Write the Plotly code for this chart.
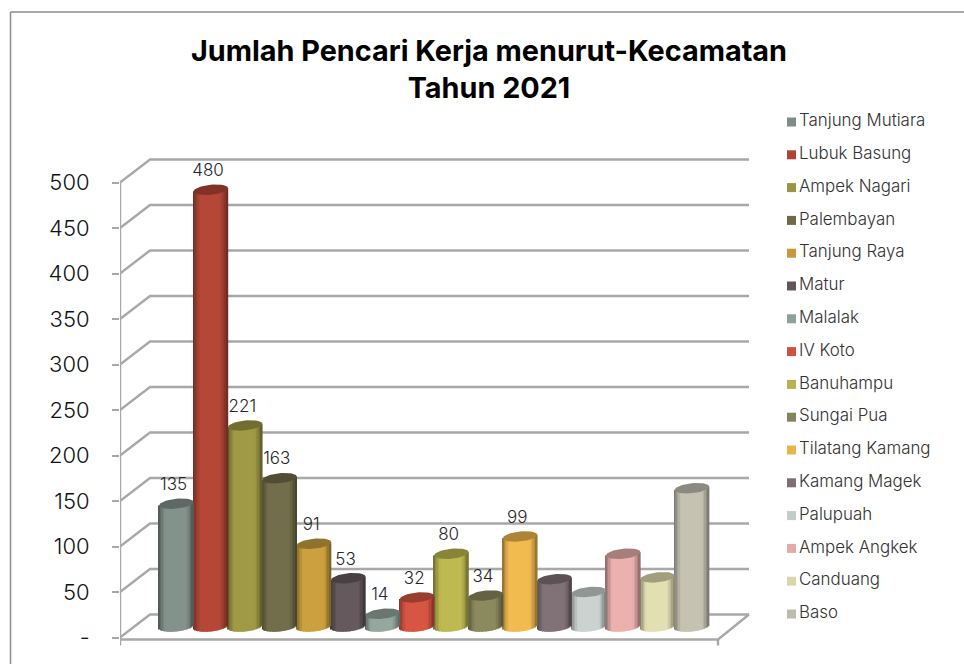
import math
import plotly.graph_objects as go

TITLE = "Jumlah Pencari Kerja menurut-Kecamatan<br>Tahun 2021"
categories = ["Tanjung Mutiara", "Lubuk Basung", "Ampek Nagari", "Palembayan",
              "Tanjung Raya", "Matur", "Malalak", "IV Koto", "Banuhampu", "Sungai Pua",
              "Tilatang Kamang", "Kamang Magek", "Palupuah", "Ampek Angkek", "Canduang", "Baso"]
values = [135, 480, 221, 163, 91, 53, 14, 32, 80, 34, 99, 52, 38, 80, 54, 152]
labelled = [True] * 11 + [False] * 5
colors = ["#7F8C87", "#AD4434", "#9A9444", "#6E6A48", "#C49A3C", "#615659", "#8FA198", "#CF5240",
          "#B8B24F", "#86845A", "#E9B44C", "#7C6E73", "#C2CBC8", "#E3AAA8", "#D9D6AC", "#BDBBAB"]
tick_vals = [0, 50, 100, 150, 200, 250, 300, 350, 400, 450, 500]
tick_text = ["-", "50", "100", "150", "200", "250", "300", "350", "400", "450", "500"]

FONT = "Inter"
W, H = 964, 664
PX_PER_UNIT = 0.91
L, R, T, B = 120, 760, 150, 652
FRONT_ZERO, BAR_ZERO = 637.5, 626.5
X0, BAR_W = 176.4, 34.37
DEPTH_X, DEPTH_Y = 30, 23
GRID = "#A8A8A8"
STRIPS = 24
ELL_B, ELL_TILT = 5.0, 1.7


def X(px):
    return (px - X0) / BAR_W


def shade(hex_color, f):
    rgb = [int(hex_color[i:i + 2], 16) for i in (1, 3, 5)]
    return "rgb(%d,%d,%d)" % tuple(min(255, round(c * f)) for c in rgb)


def yrange(zero):
    return [(zero - B) / PX_PER_UNIT, (zero - T) / PX_PER_UNIT]


fig = go.Figure()


def line(xs, ys, width=2.4, color=GRID):
    fig.add_trace(go.Scatter(x=xs, y=ys, mode="lines", line=dict(color=color, width=width),
                             xaxis="x", yaxis="y", hoverinfo="skip", showlegend=False,
                             cliponaxis=False))


# Back wall, side wall and floor, on the front value axis
dy = DEPTH_Y / PX_PER_UNIT
for t in tick_vals:
    line([X(L), X(L + DEPTH_X), X(749)], [t, t + dy, t + dy])
floor = -2 / PX_PER_UNIT
line([X(L), X(718), X(749)], [floor, floor, dy])
line([X(L), X(L)], [-8 / PX_PER_UNIT, 500])
line([X(718), X(718)], [-8 / PX_PER_UNIT, floor])

# Cylinder bodies: vertical strips shaded dark-light-dark
for k in range(STRIPS):
    off = (k + 0.5) / STRIPS - 0.5           # -0.5 .. 0.5 of bar width
    c = off * 2                              # -1 .. 1
    root = math.sqrt(max(0, 1 - c * c))
    tilt_units = ELL_TILT * c / PX_PER_UNIT
    low = tilt_units - ELL_B * root / PX_PER_UNIT
    f = 0.56 + 0.48 * min(1, (1 - abs(c)) / 0.4) ** 0.7
    fig.add_trace(go.Bar(
        x=[i + off for i in range(len(values))],
        y=[v - low + tilt_units for v in values],
        base=low,
        width=1.35 / STRIPS,
        marker=dict(color=[shade(col, f) for col in colors], line=dict(width=0)),
        xaxis="x", yaxis="y2", hoverinfo="skip", showlegend=False))

# Cylinder tops
for i, (v, col) in enumerate(zip(values, colors)):
    ts = [2 * math.pi * n / 48 for n in range(49)]
    fig.add_trace(go.Scatter(
        x=[i + 0.5 * math.cos(t) for t in ts],
        y=[v + (ELL_TILT * math.cos(t) + ELL_B * math.sin(t)) / PX_PER_UNIT for t in ts],
        mode="lines", fill="toself", fillcolor=shade(col, 0.74), line=dict(width=0),
        xaxis="x", yaxis="y2", hoverinfo="skip", showlegend=False, cliponaxis=False))

# Data labels
shown = [i for i, f in enumerate(labelled) if f]
fig.add_trace(go.Scatter(
    x=[i - 0.08 for i in shown],
    y=[values[i] + 18 / PX_PER_UNIT for i in shown],
    text=[str(values[i]) for i in shown],
    mode="text", textposition="middle center",
    textfont=dict(family=FONT, size=17, color="#262626", weight=300),
    xaxis="x", yaxis="y2", hoverinfo="skip", showlegend=False, cliponaxis=False))

# Legend, placed on a page-sized pixel axis
rows = [122 + 32.8 * i for i in range(len(categories))]
fig.add_trace(go.Scatter(
    x=[791.5] * len(rows), y=rows, mode="markers",
    marker=dict(symbol="square", size=9, color=colors, line=dict(width=0)),
    xaxis="x2", yaxis="y3", hoverinfo="skip", showlegend=False))
fig.add_trace(go.Scatter(
    x=[799] * len(rows), y=rows, mode="text", text=categories, textposition="middle right",
    textfont=dict(family=FONT, size=16.9, color="#333333", weight=300),
    xaxis="x2", yaxis="y3", hoverinfo="skip", showlegend=False, cliponaxis=False))

fig.update_layout(
    width=W, height=H, autosize=False,
    margin=dict(l=0, r=0, t=0, b=0),
    paper_bgcolor="white", plot_bgcolor="rgba(0,0,0,0)",
    barmode="overlay", showlegend=False,
    title=dict(text=TITLE, x=489 / W, xanchor="center", y=1 - 61 / H, yanchor="top",
               font=dict(family=FONT, size=28.8, color="#000000", weight="bold")),
    xaxis=dict(domain=[L / W, R / W], range=[X(L), X(R)], visible=False, fixedrange=True),
    yaxis=dict(domain=[1 - B / H, 1 - T / H], range=yrange(FRONT_ZERO), anchor="x",
               tickmode="array", tickvals=tick_vals, ticktext=tick_text,
               ticks="outside", ticklen=7, tickwidth=2, tickcolor=GRID,
               ticklabelstandoff=18,
               tickfont=dict(family=FONT, size=22, color="#111111", weight=300),
               showgrid=False, zeroline=False, showline=False, fixedrange=True),
    yaxis2=dict(range=yrange(BAR_ZERO), overlaying="y", anchor="x", visible=False, fixedrange=True),
    xaxis2=dict(domain=[0, 1], range=[0, W], anchor="y3", visible=False, fixedrange=True),
    yaxis3=dict(domain=[0, 1], range=[H, 0], anchor="x2", visible=False, fixedrange=True),
    shapes=[
        dict(type="line", xref="paper", yref="paper", x0=10.5 / W, x1=10.5 / W, y0=0, y1=1 - 12 / H,
             line=dict(color="#8C8C8C", width=1.5)),
        dict(type="line", xref="paper", yref="paper", x0=10.5 / W, x1=1, y0=1 - 12 / H, y1=1 - 12 / H,
             line=dict(color="#8C8C8C", width=1.5)),
    ],
)

fig.write_html("out.html", config={"displayModeBar": False},
               post_script="document.body.style.margin='0';document.body.style.overflow='hidden';")
